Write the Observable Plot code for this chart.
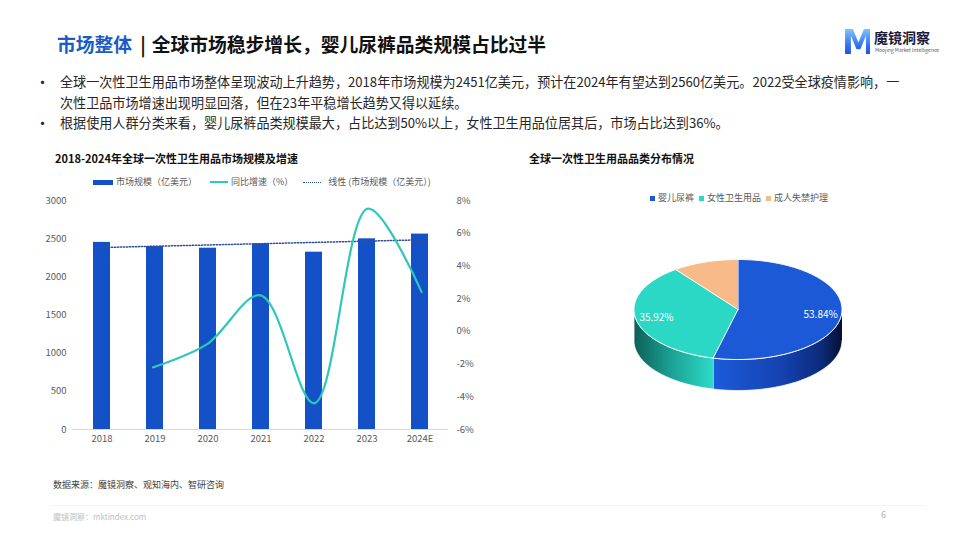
<!DOCTYPE html>
<html><head><meta charset="utf-8">
<script src="https://cdn.jsdelivr.net/npm/d3@7"></script>
<script src="https://cdn.jsdelivr.net/npm/@observablehq/plot@0.6"></script>
<style>
body{margin:0;width:960px;height:540px;background:#fff;font-family:"Noto Sans CJK SC","Noto Sans",sans-serif;position:relative;overflow:hidden;color:#262626}
.abs{position:absolute;white-space:nowrap}
.title{left:57px;top:31px;font-size:18.8px;font-weight:700;line-height:26px;color:#111}
.title .hl{color:#1A5BC6}
.title .bar{margin:0 6px 0 8px}
.bul{font-size:13.1px;line-height:20px;color:#262626}
.dot{font-size:15px;line-height:20px;color:#262626}
.ctitle{font-size:11px;font-weight:700;line-height:14px;color:#111}
.leg{font-size:9px;line-height:12px;color:#595959;display:flex;align-items:center}
.src{font-size:9px;color:#404040;line-height:12px}
.plotbox{position:absolute}
</style></head><body>

<div class="abs title"><span class="hl">市场整体</span><span class="bar">|</span>全球市场稳步增长，婴儿尿裤品类规模占比过半</div>

<div class="abs" style="left:842px;top:26px;width:28px;height:34px;font-family:'DejaVu Sans';font-weight:900;font-size:33px;line-height:34px;background:linear-gradient(180deg,#8fd0ff,#2f6df0 60%,#1d3fd0);-webkit-background-clip:text;background-clip:text;color:transparent;letter-spacing:-2px">M</div>
<div class="abs" style="left:874px;top:28px;font-size:14px;font-weight:700;line-height:18px;color:#1b1b3a">魔镜洞察</div>
<div class="abs" style="left:875px;top:47px;font-size:5px;line-height:6px;color:#555">Moojing Market Intelligence</div>

<div class="abs dot" style="left:35px;top:72px">•</div>
<div class="abs bul" style="left:60px;top:72px">全球一次性卫生用品市场整体呈现波动上升趋势，2018年市场规模为2451亿美元，预计在2024年有望达到2560亿美元。2022受全球疫情影响，一</div>
<div class="abs bul" style="left:60px;top:93px">次性卫品市场增速出现明显回落，但在23年平稳增长趋势又得以延续。</div>
<div class="abs dot" style="left:35px;top:113px">•</div>
<div class="abs bul" style="left:60px;top:113px">根据使用人群分类来看，婴儿尿裤品类规模最大，占比达到50%以上，女性卫生用品位居其后，市场占比达到36%。</div>

<div class="abs ctitle" style="left:55px;top:151px">2018-2024年全球一次性卫生用品市场规模及增速</div>
<div class="abs ctitle" style="left:529px;top:151px">全球一次性卫生用品品类分布情况</div>

<div class="abs leg" style="left:93px;top:176px">
  <span style="display:inline-block;width:20px;height:5px;background:#1551C6;margin-right:3px"></span>市场规模（亿美元）
  <span style="display:inline-block;width:18px;height:2px;background:#2EC7B8;margin:0 3px 0 13px"></span>同比增速（%）
  <span style="display:inline-block;width:18px;height:0;border-top:1.5px dotted #2F4FA0;margin:0 7px 0 10px"></span>线性 (市场规模（亿美元）)
</div>

<div class="abs leg" id="pieLegend" style="left:650px;top:192px"></div>

<div class="plotbox" id="bars" style="left:30px;top:190px"></div>
<div class="plotbox" id="trend" style="left:30px;top:190px"></div>
<div class="plotbox" id="growth" style="left:30px;top:190px"></div>
<div class="plotbox" id="pie" style="left:600px;top:240px"></div>

<div class="abs src" style="left:53px;top:479px">数据来源：魔镜洞察、观知海内、智研咨询</div>
<div class="abs" style="left:50px;top:505px;width:876px;height:1px;background:#f2f2f2"></div>
<div class="abs" style="left:53px;top:512px;font-size:8px;line-height:10px;color:#c0c0c0">魔镜洞察：mktindex.com</div>
<div class="abs" style="left:881px;top:509px;font-size:9px;line-height:12px;color:#b0b0b0">6</div>

<script>
// ---- data ----
const years = ["2018", "2019", "2020", "2021", "2022", "2023", "2024E"];
const marketSize = [2451, 2398, 2375, 2433, 2323, 2498, 2560];
const growthRate = [null, -2.2, -0.8, 2.2, -4.4, 7.5, 2.4];
const leftTicks = [0, 500, 1000, 1500, 2000, 2500, 3000];
const rightTicks = [-6, -4, -2, 0, 2, 4, 6, 8];
const categories = ["婴儿尿裤", "女性卫生用品", "成人失禁护理"];
const shares = [53.84, 35.92, 10.24];
const pieColors = ["#1C59D6", "#2BD8C5", "#F9BA8A"];

const barColor = "#1551C6";
const lineColor = "#2EC7B8";
const trendColor = "#2F4FA0";
const font = '"Noto Sans CJK SC","Noto Sans",sans-serif';

const table = years.map((y, i) => ({year: y, idx: i, size: marketSize[i], growth: growthRate[i]}));

const W = 460, H = 260, ML = 42, MR = 42, MT = 10, MB = 21;
const common = {width: W, height: H, marginLeft: ML, marginRight: MR, marginTop: MT, marginBottom: MB,
  style: {fontFamily: font, fontSize: "9.5px", color: "#595959", background: "transparent", overflow: "visible"}};

// bars + left axis + x axis
document.getElementById("bars").append(Plot.plot({
  ...common,
  x: {domain: years, paddingInner: 0.68, paddingOuter: 0.34, label: null, tickSize: 0, tickPadding: 6},
  y: {domain: [0, 3000], ticks: leftTicks, tickFormat: d => String(d), label: null, tickSize: 0, tickPadding: 6},
  marks: [
    Plot.barY(table, {x: "year", y: "size", fill: barColor}),
    Plot.ruleY([0], {stroke: "#d9d9d9", strokeWidth: 1})
  ]
}));

// linear trend of market size
document.getElementById("trend").append(Plot.plot({
  ...common,
  x: {domain: [-0.5, years.length - 0.5], axis: null},
  y: {domain: [0, 3000], axis: null},
  marks: [
    Plot.linearRegressionY(table, {x: "idx", y: "size", ci: 0, stroke: trendColor, strokeWidth: 1.5, strokeDasharray: "1.3 1.7"})
  ]
}));

// growth line + right axis
document.getElementById("growth").append(Plot.plot({
  ...common,
  x: {domain: [-0.5, years.length - 0.5], axis: null},
  y: {domain: [-6, 8], ticks: rightTicks, tickFormat: d => d + "%", axis: "right", label: null, tickSize: 0, tickPadding: 8},
  marks: [
    Plot.line(table.filter(d => d.growth != null), {x: "idx", y: "growth", curve: "catmull-rom", stroke: lineColor, strokeWidth: 2.2})
  ]
}));

// ---- 3D pie ----
const arcs = d3.pie().sort(null)(shares);
const depth = 0.62;
const step = Math.PI / 180;
function arcPts(a0, a1, dy) {
  const pts = [];
  const n = Math.max(2, Math.ceil((a1 - a0) / step));
  for (let k = 0; k <= n; k++) {
    const a = a0 + (a1 - a0) * k / n;
    pts.push({x: Math.sin(a), y: Math.cos(a) - dy});
  }
  return pts;
}
const topPts = [];
arcs.forEach((a, i) => {
  const cat = categories[i];
  topPts.push({x: 0, y: 0, cat});
  arcPts(a.startAngle, a.endAngle, 0).forEach(p => topPts.push({...p, cat}));
});
const sideGrad = ["gBlue", "gTeal", "gPeach"];
const sides = [];
arcs.forEach((a, i) => {
  const s = Math.max(a.startAngle, Math.PI / 2), e = Math.min(a.endAngle, 3 * Math.PI / 2);
  if (e <= s) return;
  const pts = arcPts(s, e, 0).concat(arcPts(s, e, depth).reverse()).map(p => ({...p, g: "url(#" + sideGrad[i] + ")"}));
  sides.push(pts);
});
const labels = arcs.map((a, i) => {
  const m = (a.startAngle + a.endAngle) / 2;
  return {x: 0.8 * Math.sin(m), y: 0.8 * Math.cos(m), text: shares[i].toFixed(2) + "%", share: shares[i]};
}).filter(d => d.share > 20);

const pieSvg = Plot.plot({
  width: 280, height: 170, margin: 0,
  style: {fontFamily: font, background: "transparent", overflow: "visible"},
  x: {domain: [-1, 1], range: [33.5, 241.5], axis: null},
  y: {domain: [-1, 1], range: [119, 19], axis: null},
  color: {domain: categories, range: pieColors},
  marks: [
    ...sides.map(pts => Plot.line(pts, {x: "x", y: "y", fill: pts[0].g, stroke: "white", strokeWidth: 0.8})),
    Plot.line(topPts, {x: "x", y: "y", z: "cat", fill: "cat", stroke: "white", strokeWidth: 1}),
    Plot.text(labels, {x: "x", y: "y", text: "text", fill: "white", fontSize: 10})
  ]
});
const defs = d3.select(pieSvg).insert("defs", ":first-child");
function grad(id, stops) {
  const g = defs.append("linearGradient").attr("id", id).attr("x1", 0).attr("x2", 1).attr("y1", 0).attr("y2", 0);
  stops.forEach(([o, c]) => g.append("stop").attr("offset", o).attr("stop-color", c));
}
grad("gBlue", [[0, "#1D5BDB"], [0.55, "#1441AE"], [0.85, "#0C2A78"], [1, "#050F30"]]);
grad("gTeal", [[0, "#0D5F59"], [0.45, "#1A9F92"], [1, "#2DDBC8"]]);
grad("gPeach", [[0, "#c98a5a"], [1, "#F9BA8A"]]);
document.getElementById("pie").append(pieSvg);

// pie legend
const pl = document.getElementById("pieLegend");
categories.forEach((c, i) => {
  const sw = document.createElement("span");
  sw.style.cssText = `display:inline-block;width:5px;height:5px;background:${pieColors[i]};margin:0 3px 0 ${i ? 5 : 0}px`;
  pl.append(sw, document.createTextNode(c));
});
</script>
</body></html>
